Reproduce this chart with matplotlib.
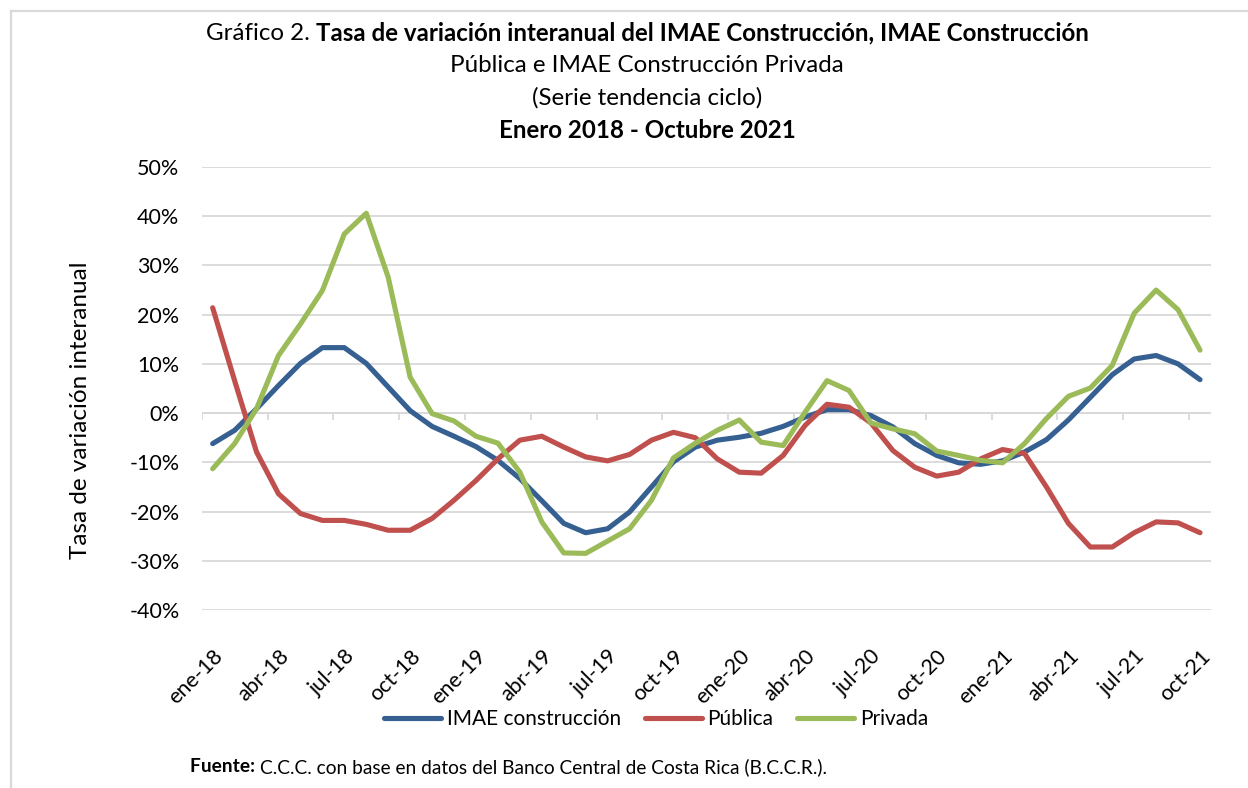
import matplotlib
matplotlib.use("Agg")
import matplotlib.pyplot as plt
from matplotlib.lines import Line2D
import numpy as np

# ---------------- data ----------------
months = ["ene", "feb", "mar", "abr", "may", "jun", "jul", "ago", "sep", "oct", "nov", "dic"]
years = ["18", "19", "20", "21"]
labels = [f"{m}-{y}" for y in years for m in months][:46]  # ene-18 .. oct-21

imae = [-6.2, -3.5, 0.9, 5.6, 10.1, 13.3, 13.3, 10.1, 5.3, 0.5, -2.7, -4.7,
        -6.8, -9.6, -13.3, -17.8, -22.4, -24.3, -23.5, -20.1, -15.0, -9.9, -6.9, -5.5,
        -4.9, -4.1, -2.7, -0.8, 0.7, 0.7, -0.5, -2.8, -6.2, -8.6, -10.1, -10.4,
        -9.7, -7.9, -5.4, -1.4, 3.2, 7.8, 11.0, 11.7, 10.0, 6.8]

publica = [21.4, 6.6, -7.9, -16.4, -20.4, -21.8, -21.8, -22.6, -23.8, -23.8, -21.4, -17.7,
           -13.7, -9.3, -5.5, -4.7, -6.9, -8.9, -9.7, -8.4, -5.5, -3.9, -5.0, -9.3,
           -12.0, -12.2, -8.6, -2.5, 1.8, 1.2, -2.0, -7.6, -11.0, -12.8, -12.0, -9.3,
           -7.4, -8.2, -15.0, -22.4, -27.2, -27.2, -24.3, -22.1, -22.3, -24.3]

privada = [-11.3, -6.2, 0.9, 11.7, 18.1, 24.9, 36.4, 40.6, 27.6, 7.3, -0.1, -1.6,
           -4.7, -6.1, -12.0, -22.1, -28.4, -28.5, -26.0, -23.5, -17.7, -9.1, -6.1, -3.5,
           -1.4, -5.9, -6.6, 0.2, 6.6, 4.6, -2.0, -3.2, -4.2, -7.7, -8.6, -9.6,
           -10.1, -6.2, -1.1, 3.4, 5.1, 9.7, 20.3, 25.0, 21.0, 12.8]

series_names = ["IMAE construcción", "Pública", "Privada"]
series_colors = ["#376092", "#C0504D", "#9BBB59"]

yticks = list(range(-40, 51, 10))

# ---------------- figure ----------------
FONT = "Lato"
plt.rcParams["font.family"] = [FONT, "DejaVu Sans"]

W, H = 1248, 788
fig = plt.figure(figsize=(W / 100, H / 100), dpi=100)
fig.patch.set_facecolor("white")

# outer frame (left and top edges visible)
fig.add_artist(Line2D([11 / W, 11 / W], [0, 1 - 11 / H], transform=fig.transFigure,
                      color="#D9D9D9", lw=1.6))
fig.add_artist(Line2D([11 / W, 1], [1 - 11 / H, 1 - 11 / H], transform=fig.transFigure,
                      color="#D9D9D9", lw=1.6))

left, right, top, bottom = 201.7, 1211, 167, 610
ax = fig.add_axes([left / W, 1 - bottom / H, (right - left) / W, (bottom - top) / H])

x = np.arange(len(labels))
for vals, name, col in zip([imae, publica, privada], series_names, series_colors):
    ax.plot(x, vals, color=col, lw=3.7, label=name, solid_joinstyle="round",
            solid_capstyle="round", zorder=3)

ax.set_xlim(-0.5, len(labels) - 0.5)
ax.set_ylim(-40, 50)
ax.set_yticks(yticks)
ax.set_yticklabels([f"{v}%" for v in yticks])
ax.yaxis.grid(True, color="#D9D9D9", lw=1.3)
ax.set_axisbelow(True)
for s in ax.spines.values():
    s.set_visible(False)

# horizontal axis line at 0 with category tick marks
ax.axhline(0, color="#D9D9D9", lw=1.3, zorder=1)
tick_pos = np.arange(-0.5, len(labels), 3)
ax.vlines(tick_pos, -1.3, 0, color="#D9D9D9", lw=1.3, zorder=1)

ax.set_xticks(x[::3])
ax.set_xticklabels(labels[::3], rotation=45, ha="right", rotation_mode="anchor",
                   fontsize=15.5, color="black")
ax.tick_params(axis="x", length=0, pad=26)
ax.tick_params(axis="y", length=0, pad=16, labelsize=15.5)

ax.set_ylabel("Tasa de variación interanual", fontsize=17.5)
ax.yaxis.set_label_coords(-0.110, 0.451)

# legend
leg = fig.legend(loc="center", bbox_to_anchor=(656 / W, 1 - 719 / H), ncol=3, frameon=False,
                 fontsize=15, handlelength=2.75, handletextpad=0.25, columnspacing=1.15)
for h in leg.get_lines():
    h.set_linewidth(3.7)

# titles
renderer = fig.canvas.get_renderer()
cx = 647 / W

def mixed_line(y_px, parts, size):
    texts = []
    for s, w in parts:
        t = fig.text(0, 1 - y_px / H, s, fontsize=size, fontweight=w, va="center", ha="left")
        texts.append(t)
    widths = [t.get_window_extent(renderer).width for t in texts]
    total = sum(widths)
    xs = cx * W - total / 2
    for t, w in zip(texts, widths):
        t.set_x(xs / W)
        xs += w

TS = 17.4
mixed_line(33, [("Gráfico 2. ", "normal"),
                ("Tasa de variación interanual del IMAE Construcción, IMAE Construcción", "bold")], TS)
mixed_line(66, [("Pública e IMAE Construcción Privada", "normal")], TS)
mixed_line(98, [("(Serie tendencia ciclo)", "normal")], TS)
mixed_line(131, [("Enero 2018 - Octubre 2021", "bold")], TS)

# footer
t1 = fig.text(190 / W, 1 - 767 / H, "Fuente: ", fontsize=13.8, fontweight="bold", va="center")
w1 = t1.get_window_extent(renderer).width
fig.text((190 + w1) / W, 1 - 767 / H,
         "C.C.C. con base en datos del Banco Central de Costa Rica (B.C.C.R.).",
         fontsize=13.8, va="center")

fig.savefig("out.png", dpi=100, facecolor="white")
